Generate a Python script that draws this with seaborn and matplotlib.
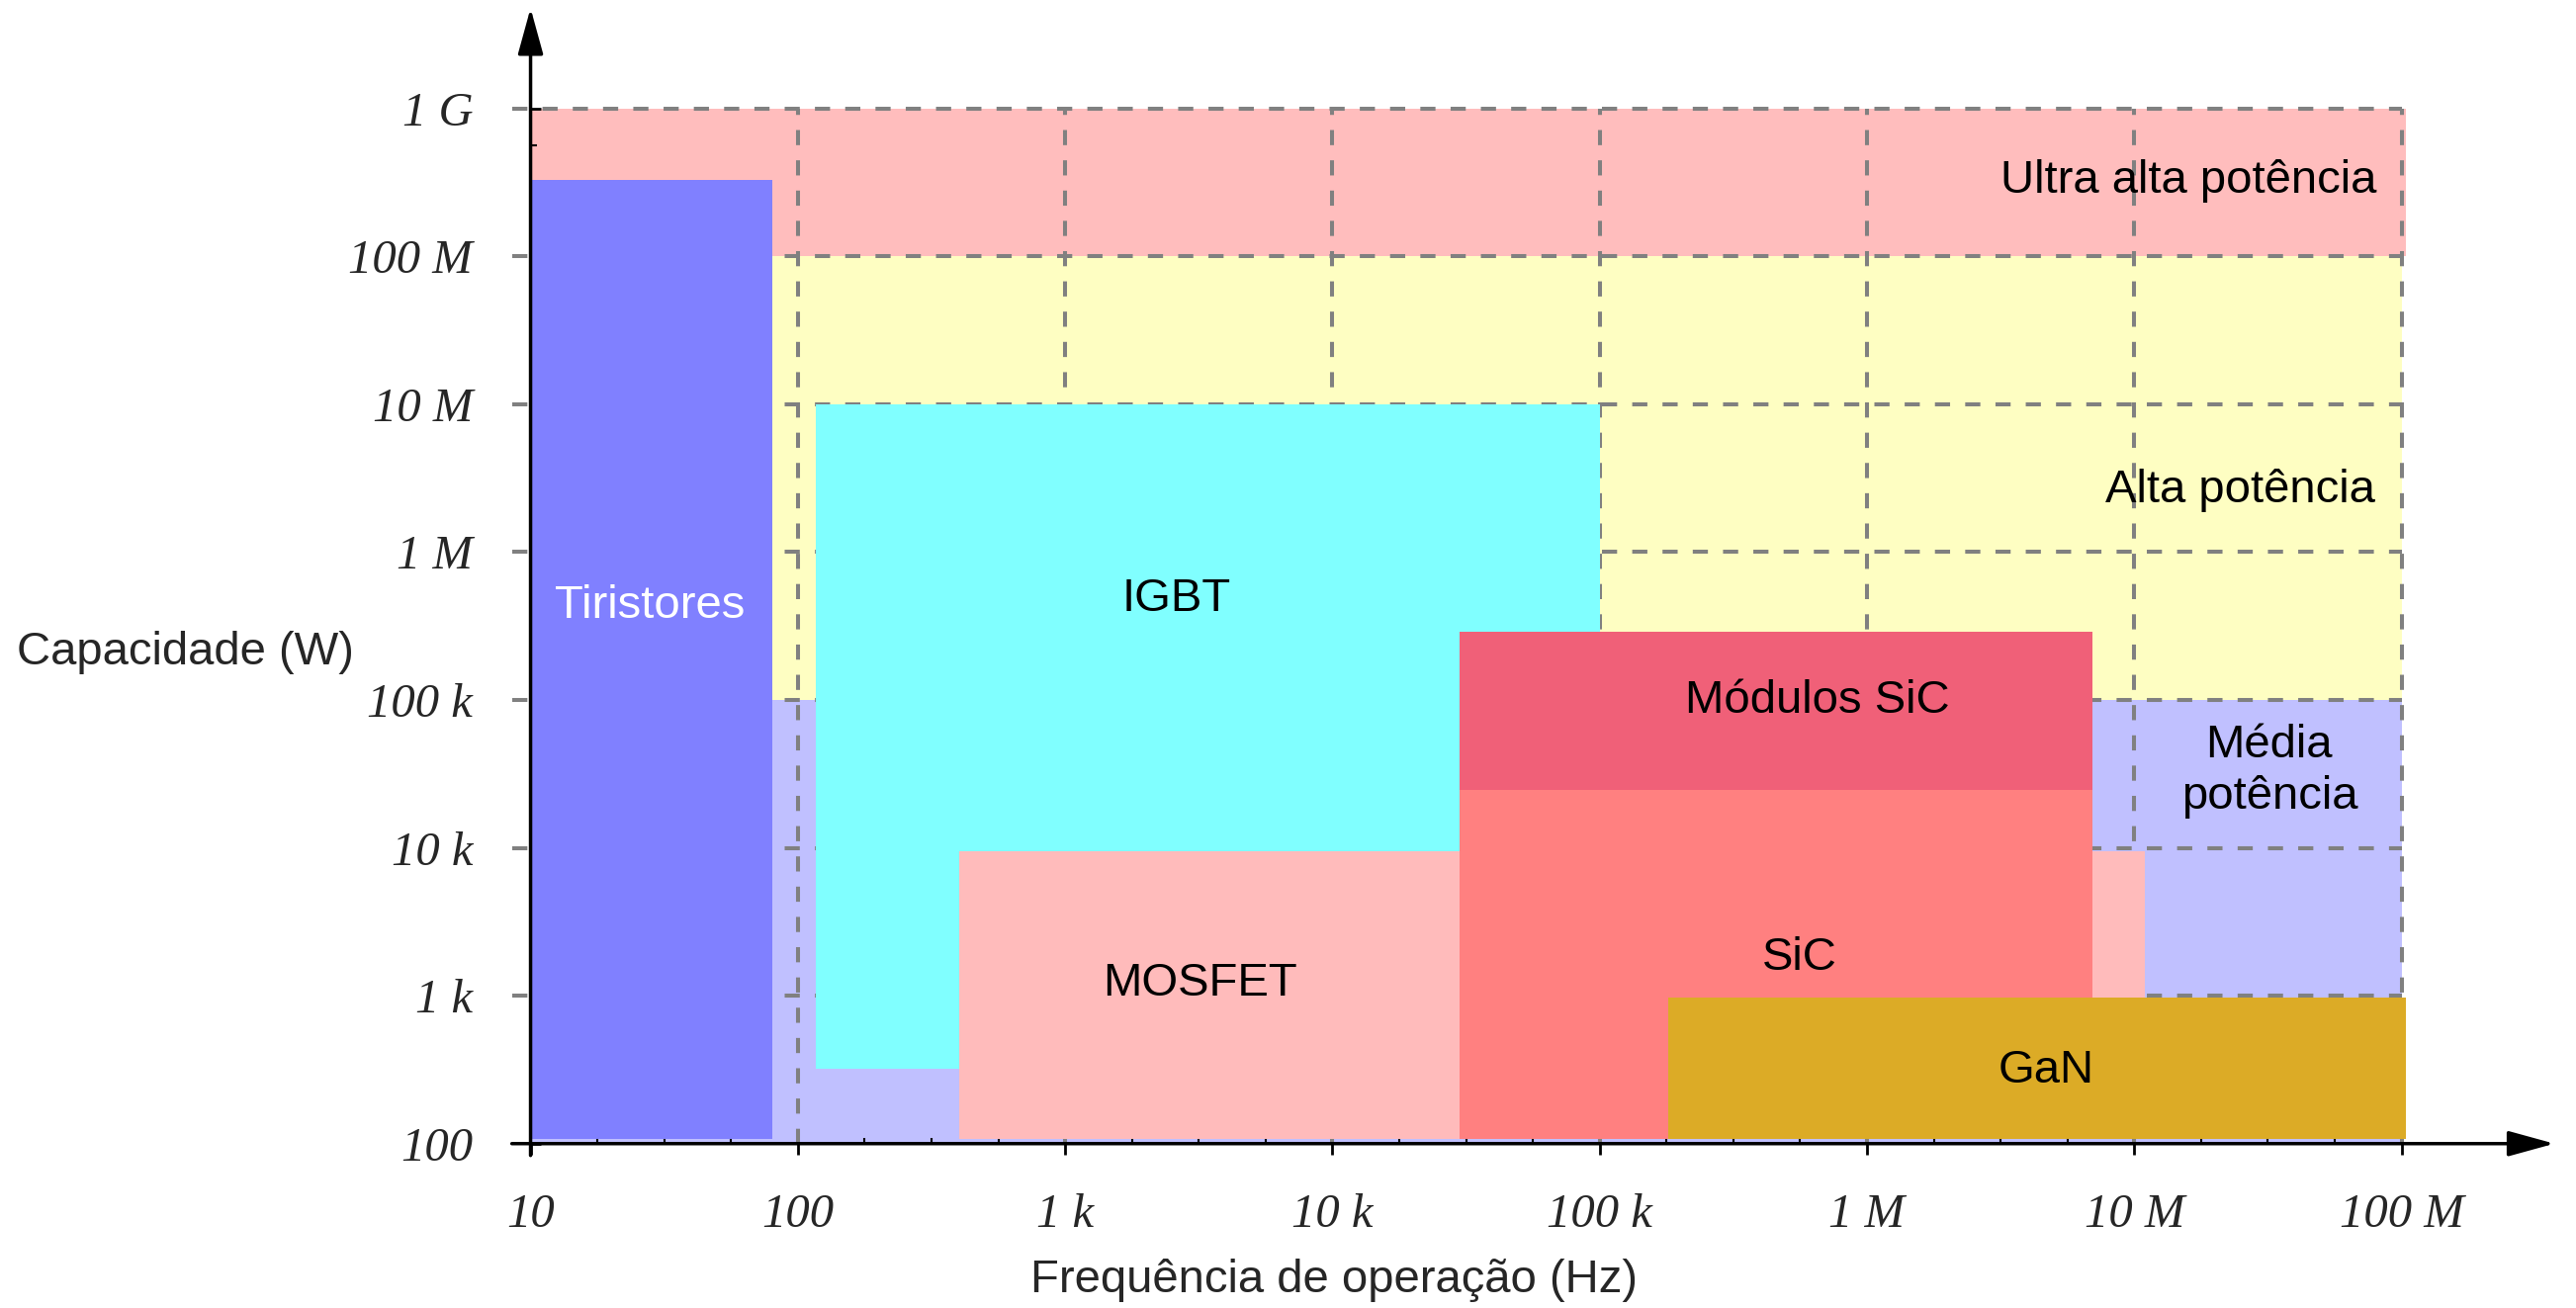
import numpy as np
import matplotlib
matplotlib.use("Agg")
import matplotlib.pyplot as plt
import seaborn as sns
from matplotlib.patches import Rectangle
from matplotlib.ticker import NullFormatter

# faixas de potencia (fundo)
region_names = ["Média\npotência", "Alta potência", "Ultra alta potência"]
region_x0 = [10, 10, 10]
region_x1 = [1e8, 1e8, 1.04e8]
region_y0 = [100, 1e5, 1e8]
region_y1 = [1e5, 1e8, 1e9]
region_colors = ["#c0c0ff", "#fefec2", "#ffbdbd"]

# dispositivos
device_names = ["Tiristores", "IGBT", "MOSFET", "SiC", "Módulos SiC", "GaN"]
device_x0 = [10, 117, 400, 3e4, 3e4, 1.8e5]
device_x1 = [80, 1e5, 1.1e7, 7e6, 7e6, 1.04e8]
device_y0 = [107, 320, 107, 107, 2.45e4, 107]
device_y1 = [3.3e8, 1e7, 9.5e3, 2.45e4, 2.9e5, 970]
device_colors = ["#8080ff", "#80ffff", "#ffbbbb", "#ff8080", "#f06078", "#dcab26"]
device_text_colors = ["white", "black", "black", "black", "black", "black"]

x_ticks = [10, 100, 1e3, 1e4, 1e5, 1e6, 1e7, 1e8]
x_ticklabels = ["10", "100", "1 k", "10 k", "100 k", "1 M", "10 M", "100 M"]
y_ticks = [100, 1e3, 1e4, 1e5, 1e6, 1e7, 1e8, 1e9]
y_ticklabels = ["100", "1 k", "10 k", "100 k", "1 M", "10 M", "100 M", "1 G"]

# posicoes dos textos (layout)
device_label_pos = [(28, 4.3e5), (2.6e3, 4.8e5), (3.2e3, 1.2e3),
                    (5.6e5, 1.8e3), (6.5e5, 9.8e4), (4.7e6, 310)]
region_label_pos = [(3.2e7, 3.3e4, "center"), (8.0e7, 2.6e6, "right"), (8.1e7, 3.25e8, "right")]

sns.set_theme(style="white")
plt.rcParams['font.family'] = ['Liberation Sans', 'DejaVu Sans']

fig = plt.figure(figsize=(26.05, 13.23), dpi=100)
ax = fig.add_axes([0.1904, 0.1087, 0.8062, 0.8898])
ax.set_xscale('log')
ax.set_yscale('log')
ax.set_xlim(10**0.85, 10**8.62)
ax.set_ylim(10**1.85, 10**9.72)
ax.set_axisbelow(True)
ax.patch.set_alpha(0)
sns.despine(ax=ax, left=True, bottom=True)
ax.spines['left'].set_position(('data', 10))
ax.spines['bottom'].set_position(('data', 100))

# fundos
for x0, x1, y0, y1, c in zip(region_x0, region_x1, region_y0, region_y1, region_colors):
    ax.add_patch(Rectangle((x0, y0), x1 - x0, y1 - y0, facecolor=c, edgecolor='none', zorder=0.1))

# grade tracejada
dash = (0, (3.8, 3.8))
ax.hlines(y_ticks[1:], 10**0.93, 1e8, colors='#808080', linestyles=dash, linewidth=2.9, zorder=0.3)
ax.vlines(x_ticks[1:], 100, 1e9, colors='#808080', linestyles=dash, linewidth=2.9, zorder=0.3)

# dispositivos
for x0, x1, y0, y1, c in zip(device_x0, device_x1, device_y0, device_y1, device_colors):
    ax.add_patch(Rectangle((x0, y0), x1 - x0, y1 - y0, facecolor=c, edgecolor='none', zorder=0.7))

for name, (x, y), tc in zip(device_names, device_label_pos, device_text_colors):
    ax.text(x, y, name, ha='center', va='center', fontsize=34, color=tc, zorder=3)

for name, (x, y, ha) in zip(region_names, region_label_pos):
    ax.text(x, y, name, ha=ha, va='center', fontsize=34, color='black',
            linespacing=1.25, zorder=3)

# eixos com setas
arrow = dict(arrowstyle='-|>,head_length=0.8,head_width=0.22', mutation_scale=36,
             lw=2.5, color='black', shrinkA=0, shrinkB=0)
ax.annotate('', xy=(10**8.572, 100), xytext=(10**0.93, 100), arrowprops=arrow,
            annotation_clip=False, zorder=5)
ax.annotate('', xy=(10, 10**9.678), xytext=(10, 10**1.92), arrowprops=arrow,
            annotation_clip=False, zorder=5)

# ticks
tick_font = dict(fontfamily='Liberation Serif', fontstyle='italic', fontsize=35)
ax.set_xticks(x_ticks, x_ticklabels, **tick_font)
ax.set_yticks(y_ticks, y_ticklabels, **tick_font)
ax.set_xticks([10**v for v in np.arange(1, 8.01, 0.25) if v % 1], minor=True)
ax.set_yticks([10**v for v in np.arange(2, 8.76, 0.25) if v % 1], minor=True)
ax.xaxis.set_minor_formatter(NullFormatter())
ax.yaxis.set_minor_formatter(NullFormatter())
ax.tick_params(axis='x', which='major', direction='out', length=8, width=2, color='black', pad=28)
ax.tick_params(axis='y', which='major', direction='in', length=7, width=2, color='black', pad=42)
ax.tick_params(which='minor', direction='in', length=4, width=1.5, color='black')
ax.tick_params(bottom=True, left=True, which='both')
ax.grid(False)

fig.text(0.0064, 0.5013, "Capacidade (W)", ha='left', va='center', fontsize=34)
fig.text(0.5179, 0.0214, "Frequência de operação (Hz)", ha='center', va='center', fontsize=34)

fig.savefig("out.png", dpi=100)
